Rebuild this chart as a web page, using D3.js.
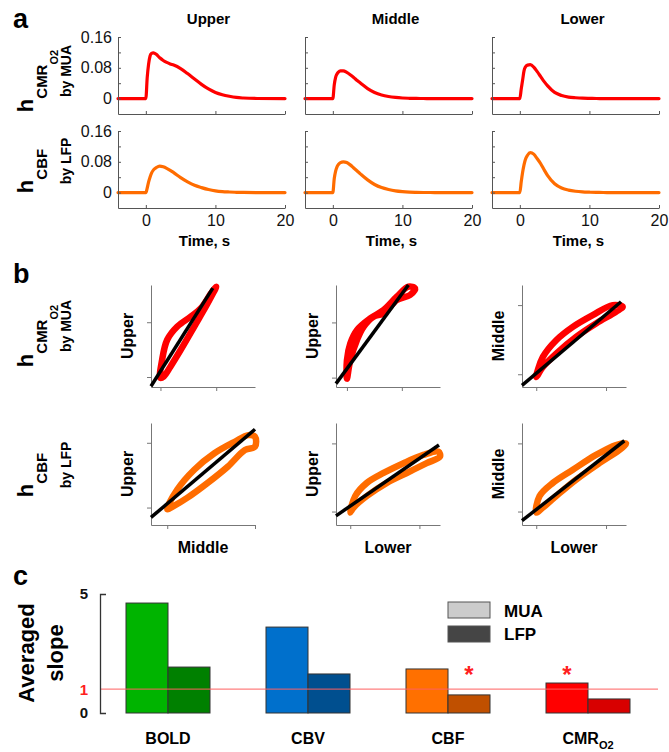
<!DOCTYPE html>
<html><head><meta charset="utf-8">
<script src="https://cdn.jsdelivr.net/npm/d3@7"></script>
<style>body{margin:0;background:#fff}</style>
</head><body>
<script>
// ---------------- DATA ----------------
const layers = ["Upper", "Middle", "Lower"];
const timeS = [-4, 0, 0.2, 0.4, 0.6, 0.8, 1.1, 1.5, 2, 2.5, 3, 3.5, 4, 5, 6, 7, 8, 9, 10, 11, 12, 13, 14, 16, 20];
const cmrUpper  = [0, 0, 0.055, 0.090, 0.110, 0.117, 0.119, 0.115, 0.106, 0.099, 0.094, 0.090, 0.087, 0.078, 0.065, 0.051, 0.037, 0.025, 0.016, 0.010, 0.006, 0.003, 0.0015, 0.0003, 0];
const cmrMiddle = [0, 0, 0.035, 0.055, 0.064, 0.069, 0.072, 0.072, 0.068, 0.062, 0.055, 0.047, 0.040, 0.026, 0.016, 0.0095, 0.0055, 0.003, 0.0015, 0.0008, 0.0004, 0.0002, 0.0001, 0, 0];
const cmrLower  = [0, 0, 0.025, 0.048, 0.072, 0.082, 0.087, 0.088, 0.082, 0.070, 0.057, 0.044, 0.033, 0.016, 0.008, 0.004, 0.0022, 0.001, 0.0005, 0.0002, 0.0001, 0, 0, 0, 0];
const cbfUpper  = [0, 0, 0.012, 0.028, 0.040, 0.050, 0.059, 0.065, 0.069, 0.067, 0.063, 0.058, 0.052, 0.039, 0.028, 0.019, 0.013, 0.008, 0.0045, 0.0025, 0.0015, 0.0008, 0.0004, 0.0001, 0];
const cbfMiddle = [0, 0, 0.036, 0.056, 0.067, 0.073, 0.078, 0.080, 0.078, 0.072, 0.064, 0.056, 0.048, 0.033, 0.021, 0.013, 0.008, 0.0045, 0.0025, 0.0013, 0.0007, 0.0003, 0.0002, 0, 0];
const cbfLower  = [0, 0, 0.028, 0.053, 0.072, 0.086, 0.097, 0.104, 0.100, 0.088, 0.075, 0.059, 0.044, 0.023, 0.012, 0.0065, 0.0035, 0.0018, 0.001, 0.0005, 0.0002, 0.0001, 0, 0, 0];
const aYTicks = [0, 0.04, 0.08, 0.12, 0.16];
const aYLabels = [0, 0.08, 0.16];
const aXTicks = [0, 10, 20];

// panel b: scatter loops (normalised units of each small axis)
const bPairs = [["Upper", "Middle"], ["Upper", "Lower"], ["Middle", "Lower"]];
const loopCmrUM = [[0.09,0.09],[0.107,0.267],[0.156,0.463],[0.253,0.593],[0.383,0.691],[0.48,0.772],[0.578,0.919],[0.627,0.984],[0.545,0.821],[0.416,0.593],[0.286,0.365],[0.188,0.202],[0.123,0.104]];
const loopCmrUL = [[0.105,0.082],[0.105,0.262],[0.137,0.426],[0.201,0.557],[0.329,0.672],[0.457,0.754],[0.585,0.885],[0.696,0.984],[0.76,0.967],[0.712,0.902],[0.585,0.852],[0.457,0.721],[0.361,0.689],[0.265,0.59],[0.201,0.459],[0.137,0.262]];
const loopCmrML = [[0.137,0.098],[0.201,0.295],[0.329,0.459],[0.489,0.59],[0.68,0.705],[0.872,0.803],[0.968,0.787],[0.904,0.738],[0.712,0.623],[0.521,0.492],[0.329,0.328],[0.201,0.197]];
const loopCbfUM = [[0.156,0.155],[0.253,0.348],[0.416,0.542],[0.61,0.703],[0.805,0.816],[0.935,0.881],[1.0,0.865],[1.0,0.768],[0.903,0.735],[0.74,0.574],[0.545,0.413],[0.351,0.268],[0.221,0.187]];
const loopCbfUL = [[0.137,0.123],[0.185,0.284],[0.297,0.413],[0.457,0.51],[0.649,0.606],[0.84,0.687],[0.984,0.719],[1.0,0.671],[0.872,0.606],[0.681,0.51],[0.489,0.413],[0.297,0.284],[0.169,0.171]];
const loopCbfML = [[0.137,0.123],[0.169,0.284],[0.297,0.413],[0.489,0.542],[0.712,0.687],[0.904,0.784],[1.0,0.8],[0.936,0.735],[0.744,0.606],[0.521,0.445],[0.329,0.284],[0.201,0.171]];
const fitCmr = [[[0,0.007],[0.594,0.97]], [[0,0.033],[0.696,1.0]], [[0,0.016],[0.952,0.836]]];
const fitCbf = [[[0,0.074],[1.0,0.939]], [[0,0.09],[0.99,0.784]], [[0,0.042],[0.984,0.826]]];
const bXTicksCmr = [[0.091,0.627],[0.105,0.633],[0.137,0.808]];
const bYTicksCmr = [[0.098,0.635],[0.092,0.633],[0.125,0.803]];
const bXTicksCbf = [[0.156,1.0],[0.137,0.802],[0.137,0.808]];
const bYTicksCbf = [[0.171,0.806],[0.132,0.8],[0.132,0.8]];

// panel c: averaged slopes
const cCategories = ["BOLD", "CBV", "CBF", "CMR"];
const cSeries = ["MUA", "LFP"];
const slopeMUA = [4.62, 3.61, 1.85, 1.26];
const slopeLFP = [1.93, 1.64, 0.76, 0.59];
const cYTicks = [0, 1, 5];
const sigStars = [["CBF", "LFP"], ["CMR", "MUA"]];

// ---------------- STYLE ----------------
const FONT = "'Liberation Sans', Arial, Helvetica, sans-serif";
const RED = "#ff0000", ORANGE = "#ff6c00";
const barColors = {BOLD: ["#00b400", "#008000"], CBV: ["#0070cc", "#004f8f"], CBF: ["#ff7000", "#c05000"], CMR: ["#ff0000", "#d80000"]};

const svg = d3.select("body").append("svg").attr("width", 669).attr("height", 752)
  .style("font-family", FONT);

// panel letters
[["a", 28], ["b", 283], ["c", 585]].forEach(([t, y]) =>
  svg.append("text").attr("x", 13).attr("y", y).attr("font-size", 27).attr("font-weight", "bold").text(t));

// rotated row label helper
function hLabel(xb, yc, sub, sub2, byText) {
  const t = svg.append("text").attr("transform", `translate(${xb},${yc}) rotate(-90)`)
    .attr("text-anchor", "middle").attr("font-weight", "bold");
  t.append("tspan").attr("font-size", 22).text("h");
  t.append("tspan").attr("font-size", 15).attr("dy", 14).text(sub);
  if (sub2) t.append("tspan").attr("font-size", 11).attr("dy", 11).text(sub2);
  svg.append("text").attr("transform", `translate(${xb + 38},${yc - 10}) rotate(-90)`)
    .attr("text-anchor", "middle").attr("font-weight", "bold").attr("font-size", 14).text(byText);
}

// ---------------- PANEL A ----------------
const aColLeft = [118, 305, 492], aW = 167, aRowTop = [37, 131], aH = 77;
const aRows = [
  {series: [cmrUpper, cmrMiddle, cmrLower], color: RED},
  {series: [cbfUpper, cbfMiddle, cbfLower], color: ORANGE}
];
const xA = d3.scaleLinear().domain([-4, 20]).range([0, aW]);
const yA = d3.scaleLinear().domain([-0.04, 0.16]).range([aH, 0]);
aRows.forEach((row, r) => {
  layers.forEach((layer, c) => {
    const g = svg.append("g").attr("transform", `translate(${aColLeft[c]},${aRowTop[r]})`);
    const line = d3.line().x((d, i) => xA(timeS[i])).y(d => yA(d)).curve(d3.curveMonotoneX);
    g.append("path").attr("d", line(row.series[c])).attr("fill", "none")
      .attr("stroke", row.color).attr("stroke-width", 3.2).attr("stroke-linecap", "round").attr("stroke-linejoin", "round");
    const ya = g.append("g").call(d3.axisLeft(yA).tickValues(aYTicks).tickSizeInner(-3).tickSizeOuter(0).tickPadding(6)
      .tickFormat(d => (c === 0 && aYLabels.includes(d)) ? (d === 0 ? "0" : d.toFixed(2)) : ""));
    const xa = g.append("g").attr("transform", `translate(0,${aH})`)
      .call(d3.axisBottom(xA).tickValues(aXTicks).tickSizeInner(-3).tickSizeOuter(0).tickPadding(7)
        .tickFormat(r === 1 ? d3.format("d") : () => ""));
    [ya, xa].forEach(ax => {
      ax.selectAll("text").attr("font-size", 16).attr("font-family", FONT).attr("fill", "#111");
      ax.selectAll("path,line").attr("stroke", "#555");
    });
    if (r === 0) svg.append("text").attr("x", aColLeft[c] + aW / 2 + 7).attr("y", 24).attr("text-anchor", "middle")
      .attr("font-size", 15).attr("font-weight", "bold").text(layer);
    if (r === 1) svg.append("text").attr("x", aColLeft[c] + aW / 2 + 3).attr("y", 246).attr("text-anchor", "middle")
      .attr("font-size", 15).attr("font-weight", "bold").text("Time, s");
  });
});
hLabel(33, 81, "CMR", "O2", "by MUA");
hLabel(33, 171, "CBF", null, "by LFP");

// ---------------- PANEL B ----------------
const bColLeft = [151, 336, 522], bW = 104, bRowTop = [285, 423], bH = 102;
const bRows = [
  {loops: [loopCmrUM, loopCmrUL, loopCmrML], fits: fitCmr, xt: bXTicksCmr, yt: bYTicksCmr, color: RED},
  {loops: [loopCbfUM, loopCbfUL, loopCbfML], fits: fitCbf, xt: bXTicksCbf, yt: bYTicksCbf, color: ORANGE}
];
const xB = d3.scaleLinear().domain([0, 1]).range([0, bW]);
const yB = d3.scaleLinear().domain([0, 1]).range([bH, 0]);
bRows.forEach((row, r) => {
  bPairs.forEach((pair, c) => {
    const g = svg.append("g").attr("transform", `translate(${bColLeft[c]},${bRowTop[r]})`);
    const xa = g.append("g").attr("transform", `translate(0,${bH})`)
      .call(d3.axisBottom(xB).tickValues(row.xt[c]).tickSize(4).tickSizeOuter(0).tickFormat(() => ""));
    const ya = g.append("g").call(d3.axisLeft(yB).tickValues(row.yt[c]).tickSize(4).tickSizeOuter(0).tickFormat(() => ""));
    [xa, ya].forEach(ax => ax.selectAll("path,line").attr("stroke", "#777"));
    const loopLine = d3.line().x(d => xB(d[0])).y(d => yB(d[1])).curve(d3.curveCatmullRomClosed.alpha(0.5));
    g.append("path").attr("d", loopLine(row.loops[c])).attr("fill", "none").attr("stroke", row.color)
      .attr("stroke-width", 6.5).attr("stroke-linejoin", "round").attr("stroke-linecap", "round");
    const fitLine = d3.line().x(d => xB(d[0])).y(d => yB(d[1]));
    g.append("path").attr("d", fitLine(row.fits[c])).attr("stroke", "#000").attr("stroke-width", 3.5).attr("fill", "none");
    svg.append("text").attr("transform", `translate(${bColLeft[c] - 18},${bRowTop[r] + bH / 2}) rotate(-90)`)
      .attr("text-anchor", "middle").attr("font-size", 16).attr("font-weight", "bold").text(pair[0]);
    if (r === 1) svg.append("text").attr("x", bColLeft[c] + bW / 2).attr("y", 553).attr("text-anchor", "middle")
      .attr("font-size", 16).attr("font-weight", "bold").text(pair[1]);
  });
});
hLabel(33, 336, "CMR", "O2", "by MUA");
hLabel(33, 475, "CBF", null, "by LFP");

// ---------------- PANEL C ----------------
const yC = d3.scaleLinear().domain([0, 5]).range([713, 594]);
const xC = d3.scaleBand().domain(cCategories).range([98, 658]);
const xS = d3.scaleBand().domain(cSeries).range([0, 84]);
const barOff = (xC.bandwidth() - 84) / 2;
const bars = [];
cCategories.forEach((cat, i) => {
  bars.push({cat, s: "MUA", v: slopeMUA[i], col: barColors[cat][0]});
  bars.push({cat, s: "LFP", v: slopeLFP[i], col: barColors[cat][1]});
});
svg.append("g").selectAll("rect").data(bars).join("rect")
  .attr("x", d => xC(d.cat) + barOff + xS(d.s)).attr("width", xS.bandwidth())
  .attr("y", d => yC(d.v)).attr("height", d => yC(0) - yC(d.v))
  .attr("fill", d => d.col).attr("stroke", "#333").attr("stroke-width", 1);
// reference line at slope 1
svg.append("line").attr("x1", 100).attr("x2", 658).attr("y1", yC(1)).attr("y2", yC(1))
  .attr("stroke", "#ff6060").attr("stroke-opacity", 0.8).attr("stroke-width", 1.2);
// axis
const ca = svg.append("g").attr("transform", "translate(100,0)")
  .call(d3.axisLeft(yC).tickValues(cYTicks).tickSizeInner(0).tickSizeOuter(-6).tickPadding(12).tickFormat(d3.format("d")));
ca.selectAll("path").attr("stroke", "#333").attr("stroke-width", 1.3);
ca.selectAll("text").attr("font-size", 15).attr("font-weight", "bold").attr("font-family", FONT)
  .attr("fill", d => d === 1 ? "#ff2020" : "#111");
// stars
svg.append("g").selectAll("text").data(sigStars).join("text")
  .attr("x", d => xC(d[0]) + barOff + xS(d[1]) + xS.bandwidth() / 2).attr("y", yC(1.8)).attr("dy", "0.55em")
  .attr("text-anchor", "middle").attr("font-size", 24).attr("font-weight", "bold").attr("fill", "#ff2020").text("*");
// category labels
cCategories.forEach(cat => {
  const t = svg.append("text").attr("x", xC(cat) + xC.bandwidth() / 2).attr("y", 744).attr("text-anchor", "middle")
    .attr("font-size", 16).attr("font-weight", "bold");
  if (cat === "CMR") {
    t.append("tspan").text("CMR");
    t.append("tspan").attr("font-size", 11).attr("dy", 5).text("O2");
  } else t.text(cat);
});
// y label
svg.append("text").attr("transform", "translate(34,653) rotate(-90)").attr("text-anchor", "middle")
  .attr("font-size", 22).attr("font-weight", "bold").text("Averaged");
svg.append("text").attr("transform", "translate(63,653) rotate(-90)").attr("text-anchor", "middle")
  .attr("font-size", 22).attr("font-weight", "bold").text("slope");
// legend
const legColors = ["#cccccc", "#454545"];
cSeries.forEach((s, i) => {
  svg.append("rect").attr("x", 448).attr("y", 602 + i * 24).attr("width", 42).attr("height", 16)
    .attr("fill", legColors[i]).attr("stroke", "#555");
  svg.append("text").attr("x", 504).attr("y", 617 + i * 23).attr("font-size", 17).attr("font-weight", "bold").text(s);
});
</script>
</body></html>
